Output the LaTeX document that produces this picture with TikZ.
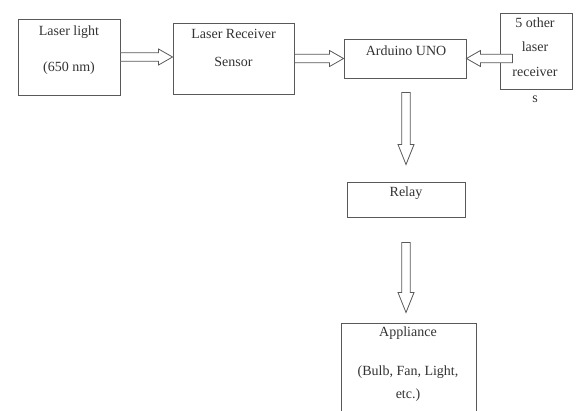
\documentclass[tikz,border=0pt]{standalone}
\usepackage{fontspec}
\setmainfont{Liberation Serif}
\usetikzlibrary{calc, positioning}

\tikzset{
  blockbox/.style={draw=black!65, line width=0.9pt, fill=white, inner sep=0pt},
  blocktext/.style={text=black!80, font=\fontsize{14}{16}\selectfont, inner sep=0pt, text height=9pt, text depth=3pt},
  fatline/.style={draw=black!65, line width=0.8pt, fill=white, line join=miter},
}
\newcommand{\shaftw}{4.3pt}
\newcommand{\headw}{8pt}
% hollow block arrow from #2 to #3, head length #1
\newcommand{\fatarrow}[3][14pt]{%
  \coordinate (ahead) at ($(#3)!#1!(#2)$);
  \draw[fatline] ($(#2)!\shaftw!90:(#3)$) -- ($(ahead)!\shaftw!90:(#3)$)
    -- ($(ahead)!\headw!90:(#3)$) -- (#3) -- ($(ahead)!\headw!-90:(#3)$)
    -- ($(ahead)!\shaftw!-90:(#3)$) -- ($(#2)!\shaftw!-90:(#3)$) -- cycle;}

\begin{document}
\begin{tikzpicture}[x=1pt, y=-1pt]
\path[use as bounding box, clip] (0,0) rectangle (578,410);

% boxes
\node[blockbox, minimum width=102pt, minimum height=76pt] (laser) at (69,57) {};
\node[blockbox, minimum width=121pt, minimum height=71pt] (receiver) at (233.5,58.5) {};
\node[blockbox, minimum width=122pt, minimum height=39pt] (arduino) at (405,58.5) {};
\node[blockbox, minimum width=72pt, minimum height=76pt] (others) at (536,51) {};
\node[blockbox, minimum width=118pt, minimum height=35pt] (relay) at (406,199.5) {};
\node[blockbox, minimum width=135pt, minimum height=110pt] (appliance) at (408.5,378) {};

% labels
\node[blocktext] (laserT1) at (69,32) {Laser light};
\node[blocktext] (laserT2) at (69,68) {(650 nm)};
\node[blocktext] (receiverT1) at (233.5,35) {Laser Receiver};
\node[blocktext] (receiverT2) at (233.5,63) {Sensor};
\node[blocktext] (arduinoT) at (406,52) {Arduino UNO};
\node[blocktext] (othersT1) at (535,24) {5 other};
\node[blocktext] (othersT2) at (535,48) {laser};
\node[blocktext] (othersT3) at (535,73) {receiver};
\node[blocktext] (othersT4) at (535,99) {s};
\node[blocktext] (relayT) at (406,193) {Relay};
\node[blocktext] (applianceT1) at (408,333) {Appliance};
\node[blocktext] (applianceT2) at (408,372) {(Bulb, Fan, Light,};
\node[blocktext] (applianceT3) at (408,395) {etc.)};

% arrow ends
\coordinate (a3s) at ($(others.west |- arduino.east)+(13,0)$);
\coordinate (a4s) at ($(arduino.south)+(1,14)$);
\coordinate (a4e) at ($(a4s |- relay.north)+(0,-17)$);
\coordinate (a5s) at ($(relay.south)+(0,25)$);
\coordinate (a5e) at ($(a5s |- appliance.north)+(0,-10)$);

% arrows
\fatarrow{laser.east}{laser.east -| receiver.west}
\fatarrow{receiver.east}{arduino.west}
\fatarrow{a3s}{arduino.east}
\fatarrow[20pt]{a4s}{a4e}
\fatarrow[20pt]{a5s}{a5e}
\end{tikzpicture}
\end{document}
